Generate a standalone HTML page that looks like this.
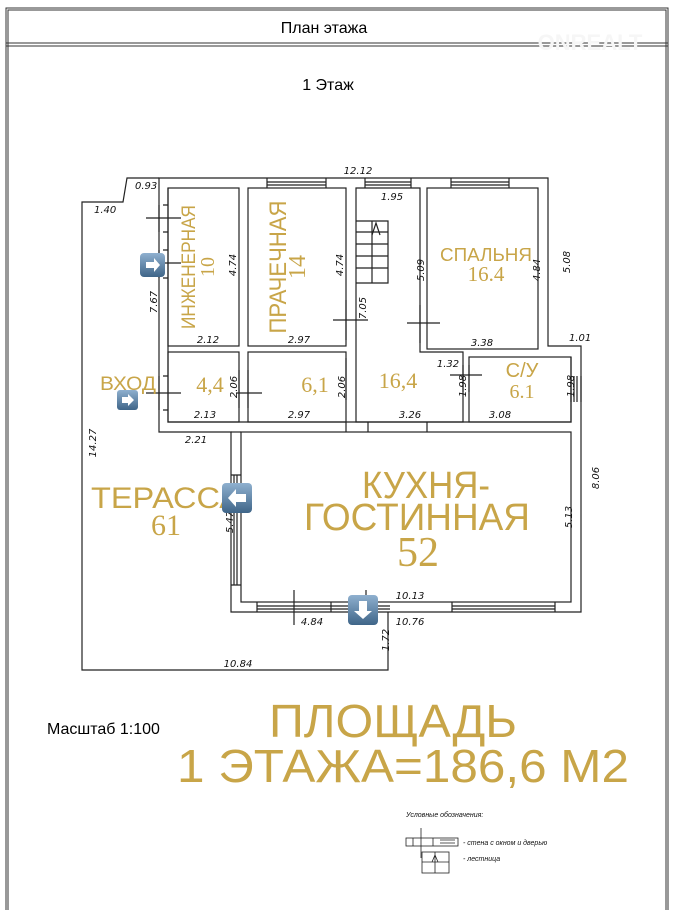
<!DOCTYPE html>
<html><head><meta charset="utf-8"><style>
html,body{margin:0;padding:0;background:#fff;}
svg{display:block}
.d{font-family:"DejaVu Sans","Liberation Sans",sans-serif;font-style:italic;font-size:10px;fill:#111}
.g{font-family:"Liberation Sans","DejaVu Sans",sans-serif;fill:#c8a548}
.s{font-family:"Liberation Serif","DejaVu Serif",serif;fill:#c8a548}
</style></head><body>
<svg width="674" height="910" viewBox="0 0 674 910" xmlns="http://www.w3.org/2000/svg">
<defs>
<linearGradient id="bt" x1="0" y1="0" x2="0" y2="1"><stop offset="0" stop-color="#8fb0cf"/><stop offset="1" stop-color="#3f6588"/></linearGradient>
</defs>
<g fill="none" stroke="#333" stroke-width="1">
<path d="M6 910 V8 H668 V910"/><path d="M8 910 V10 H666 V910"/>
<line x1="6" y1="43" x2="668" y2="43"/><line x1="6" y1="46" x2="668" y2="46"/>
</g>
<text x="324" y="33" text-anchor="middle" font-family="Liberation Sans,sans-serif" font-size="16">План этажа</text>
<text x="328" y="90" text-anchor="middle" font-family="Liberation Sans,sans-serif" font-size="16">1 Этаж</text>
<text x="590" y="50" text-anchor="middle" font-family="Liberation Sans,sans-serif" font-size="22" font-weight="bold" fill="#f6f6f6">ONREALT</text>

<g fill="none" stroke="#222" stroke-width="1.2">
<path d="M159 178 H127 L123 202 H82 V670 H388 V612"/>
<path d="M159 178 H548 V346 H581 V612 H231 V432 H159 Z"/>
<path d="M168 188 V422 H571 V357"/>
<rect x="168" y="188" width="71" height="158"/>
<rect x="248" y="188" width="98" height="158"/>
<rect x="427" y="188" width="111" height="161"/>
<rect x="469" y="357" width="102" height="65"/>
<rect x="168" y="352" width="71" height="70"/>
<rect x="248" y="352" width="98" height="70"/>
<path d="M356 188 H420 V352 H463 V422 H356 Z"/>
<rect x="241" y="432" width="330" height="170"/>
<line x1="231" y1="432" x2="241" y2="432"/>
<line x1="346" y1="422" x2="346" y2="432"/><line x1="368" y1="422" x2="368" y2="432"/><line x1="427" y1="422" x2="427" y2="432"/>
<path d="M267 178 V188 M326 178 V188 M267 182 H326 M267 185 H326"/>
<path d="M365 178 V188 M411 178 V188 M365 182 H411 M365 185 H411"/>
<path d="M451 178 V188 M509 178 V188 M451 182 H509 M451 185 H509"/>
<path d="M257 602 V612 M331 602 V612 M257 606 H331 M257 609 H331"/>
<path d="M331 606 H390 M331 609 H390"/>
<path d="M452 602 V612 M555 602 V612 M452 606 H555 M452 609 H555"/>
<path d="M231 475 H241 M231 585 H241 M234 475 V585 M237 475 V585"/>
<path d="M571 376 V402 M581 376 V402 M574 376 V402 M577 376 V402"/>
<path d="M159 205 V232 M159 250 V278 M163 205 H168 M163 232 H168 M163 250 H168 M163 278 H168"/>
<path d="M159 376 V410 M163 376 H168 M163 410 H168"/>
<path d="M146 218 H181 M146 263 H181 M146 393 H181 M236 393 H262 M333 320 H368 M407 323 H440 M450 375 H482"/>
<path d="M346 300 V340 M420 305 V343 M239 370 V408 M248 370 V408 M463 365 V392 M469 365 V392 M346 358 V400"/>
<path d="M294 590 V625 M366 590 V600"/>
<path d="M356 221 H388 V283 H356 M372 221 V283 M356 232 H388 M356 244 H388 M356 256 H388 M356 268 H388"/>
<path d="M372 235 L376 223 L380 235"/>
</g>

<text class="d" x="358" y="174" text-anchor="middle">12.12</text>
<text class="d" x="135" y="189">0.93</text>
<text class="d" x="94" y="213">1.40</text>
<text class="d" x="392" y="200" text-anchor="middle">1.95</text>
<text class="d" x="208" y="343" text-anchor="middle">2.12</text>
<text class="d" x="299" y="343" text-anchor="middle">2.97</text>
<text class="d" x="482" y="346" text-anchor="middle">3.38</text>
<text class="d" x="569" y="341">1.01</text>
<text class="d" x="448" y="367" text-anchor="middle">1.32</text>
<text class="d" x="205" y="418" text-anchor="middle">2.13</text>
<text class="d" x="299" y="418" text-anchor="middle">2.97</text>
<text class="d" x="410" y="418" text-anchor="middle">3.26</text>
<text class="d" x="500" y="418" text-anchor="middle">3.08</text>
<text class="d" x="196" y="443" text-anchor="middle">2.21</text>
<text class="d" x="410" y="599" text-anchor="middle">10.13</text>
<text class="d" x="410" y="625" text-anchor="middle">10.76</text>
<text class="d" x="312" y="625" text-anchor="middle">4.84</text>
<text class="d" x="238" y="667" text-anchor="middle">10.84</text>
<g class="d" text-anchor="middle">
<text transform="translate(236,265) rotate(-90)">4.74</text>
<text transform="translate(343,265) rotate(-90)">4.74</text>
<text transform="translate(424,270) rotate(-90)">5.09</text>
<text transform="translate(540,270) rotate(-90)">4.84</text>
<text transform="translate(570,262) rotate(-90)">5.08</text>
<text transform="translate(366,308) rotate(-90)">7.05</text>
<text transform="translate(157,302) rotate(-90)">7.67</text>
<text transform="translate(237,387) rotate(-90)">2.06</text>
<text transform="translate(345,387) rotate(-90)">2.06</text>
<text transform="translate(466,386) rotate(-90)">1.98</text>
<text transform="translate(574,386) rotate(-90)">1.98</text>
<text transform="translate(96,443) rotate(-90)">14.27</text>
<text transform="translate(599,478) rotate(-90)">8.06</text>
<text transform="translate(572,517) rotate(-90)">5.13</text>
<text transform="translate(233,522) rotate(-90)">5.47</text>
<text transform="translate(389,640) rotate(-90)">1.72</text>
</g>

<text class="g" font-size="19" text-anchor="middle" textLength="124" lengthAdjust="spacingAndGlyphs" transform="translate(195,267) rotate(-90)">ИНЖЕНЕРНАЯ</text>
<text class="s" font-size="20" text-anchor="middle" transform="translate(214,267) rotate(-90)">10</text>
<text class="g" font-size="24" text-anchor="middle" textLength="133" lengthAdjust="spacingAndGlyphs" transform="translate(286,267) rotate(-90)">ПРАЧЕЧНАЯ</text>
<text class="s" font-size="24" text-anchor="middle" transform="translate(305,267) rotate(-90)">14</text>
<text class="g" font-size="18" x="486" y="261" text-anchor="middle" textLength="92" lengthAdjust="spacingAndGlyphs">СПАЛЬНЯ</text>
<text class="s" font-size="21" x="486" y="281" text-anchor="middle">16.4</text>
<text class="g" font-size="19" x="128" y="390" text-anchor="middle" textLength="56" lengthAdjust="spacingAndGlyphs">ВХОД</text>
<text class="s" font-size="22" x="210" y="392" text-anchor="middle">4,4</text>
<text class="s" font-size="22" x="315" y="392" text-anchor="middle">6,1</text>
<text class="s" font-size="22" x="398" y="388" text-anchor="middle">16,4</text>
<text class="g" font-size="20" x="522" y="377" text-anchor="middle">С/У</text>
<text class="s" font-size="20" x="522" y="398" text-anchor="middle">6.1</text>
<text class="g" font-size="30" x="166" y="508" text-anchor="middle" textLength="150" lengthAdjust="spacingAndGlyphs">ТЕРАССА</text>
<text class="s" font-size="30" x="166" y="535" text-anchor="middle">61</text>
<text class="g" font-size="38" x="426" y="498" text-anchor="middle" textLength="128" lengthAdjust="spacingAndGlyphs">КУХНЯ-</text>
<text class="g" font-size="38" x="417" y="530" text-anchor="middle" textLength="226" lengthAdjust="spacingAndGlyphs">ГОСТИННАЯ</text>
<text class="s" font-size="42" x="418" y="566" text-anchor="middle">52</text>

<g>
<rect x="140" y="253" width="25" height="24" rx="4" fill="url(#bt)"/><path d="M146 262 H154 V258 L160 265 L154 272 V268 H146 Z" fill="#fff"/>
<rect x="117" y="390" width="21" height="20" rx="3" fill="url(#bt)"/><path d="M122 397 H128 V394 L134 400 L128 406 V403 H122 Z" fill="#fff"/>
<rect x="222" y="483" width="30" height="30" rx="4" fill="url(#bt)"/><path d="M246 494 H236 V489 L228 498 L236 507 V502 H246 Z" fill="#fff"/>
<rect x="348" y="595" width="30" height="30" rx="4" fill="url(#bt)"/><path d="M359 601 V611 H354 L363 619 L372 611 H367 V601 Z" fill="#fff"/>
</g>

<text x="47" y="734" font-family="Liberation Sans,sans-serif" font-size="16">Масштаб 1:100</text>
<text class="g" font-size="46" x="393" y="737" text-anchor="middle" textLength="248" lengthAdjust="spacingAndGlyphs">ПЛОЩАДЬ</text>
<text class="g" font-size="46" x="403" y="782" text-anchor="middle" textLength="452" lengthAdjust="spacingAndGlyphs">1 ЭТАЖА=186,6 М2</text>

<text x="406" y="817" font-family="Liberation Sans,sans-serif" font-style="italic" font-size="7" fill="#111">Условные обозначения:</text>
<g fill="none" stroke="#222" stroke-width="0.8">
<rect x="406" y="838" width="52" height="8"/>
<path d="M413 838 V846 M433 838 V846 M440 840 H455 M440 843 H455 M421 828 V858"/>
<rect x="422" y="852" width="27" height="21"/>
<path d="M422 862 H449 M435 852 V873 M432 862 L435 855 L438 862"/>
</g>
<text x="463" y="845" font-family="Liberation Sans,sans-serif" font-style="italic" font-size="7" fill="#111">- стена с окном и дверью</text>
<text x="463" y="861" font-family="Liberation Sans,sans-serif" font-style="italic" font-size="7" fill="#111">- лестница</text>
</svg>
</body></html>
